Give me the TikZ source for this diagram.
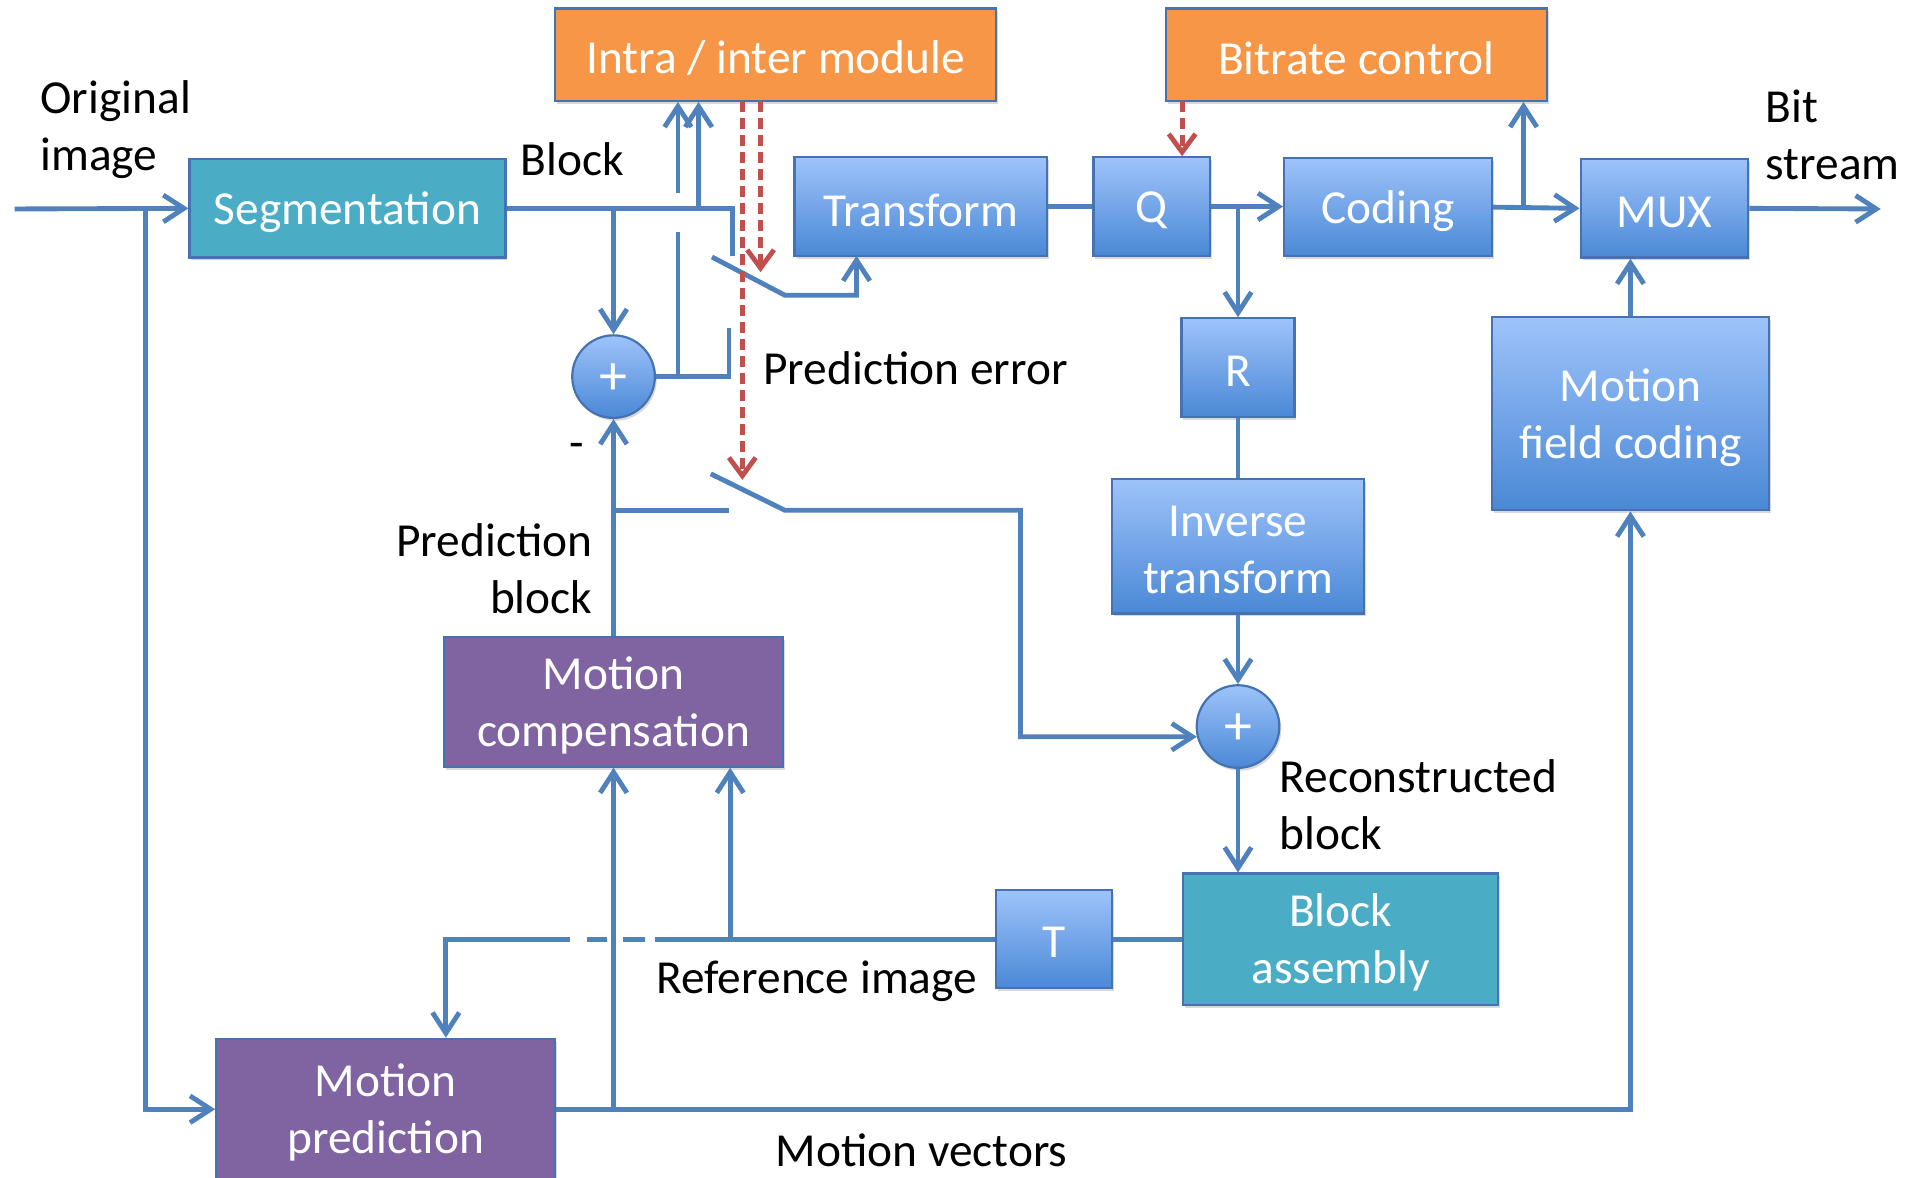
\documentclass[tikz,border=0pt]{standalone}
\usepackage{fontspec}
\setmainfont{Carlito}
\usetikzlibrary{arrows.meta,shadows}
\definecolor{lnblue}{HTML}{4F81BD}
\definecolor{bdblue}{HTML}{4572B0}
\definecolor{boxteal}{HTML}{4BACC6}
\definecolor{boxorange}{HTML}{F79646}
\definecolor{boxpurple}{HTML}{8064A2}
\definecolor{gtop}{HTML}{9EC3FA}
\definecolor{gbot}{HTML}{4A88D6}
\definecolor{redarr}{HTML}{C0504D}
\begin{document}
\begin{tikzpicture}[x=0.5pt,y=-0.5pt,
  font=\fontsize{19.5pt}{23.5pt}\selectfont,
  shd/.style={drop shadow={shadow xshift=0.8pt, shadow yshift=-1.2pt, opacity=0.3}},
  box/.style={draw=bdblue, line width=0.9pt, inner sep=0pt, shd},
  txt/.style={label={[text=white, align=center, inner sep=0pt, yshift=-1.5pt]center:#1}},
  gbox/.style={box, top color=gtop, bottom color=gbot},
  tbox/.style={box, fill=boxteal},
  obox/.style={box, fill=boxorange},
  pbox/.style={box, fill=boxpurple},
  sz/.style 2 args={minimum width=#1*0.5pt, minimum height=#2*0.5pt},
  sumnode/.style={circle, draw=bdblue, line width=0.9pt, top color=gtop, bottom color=gbot,
     minimum size=68*0.5pt, inner sep=0pt, shd},
  sumtxt/.style={label={[text=white, inner sep=0pt, yshift=-1pt, font=\fontsize{23pt}{26pt}\selectfont]center:+}},
  ln/.style={draw=lnblue, line width=2pt},
  arr/.style={ln, -{Straight Barb[length=8.5pt,width=11pt]}},
  rarr/.style={draw=redarr, line width=2pt, dash pattern=on 4.5pt off 2.5pt, -{Straight Barb[length=7.5pt,width=11pt]}},
  lbl/.style={inner sep=0pt, text=black},
]
\useasboundingbox (0,0) rectangle (1568,969);

% ---------- boxes ----------
\node[obox, sz={363}{76}, txt={Intra / inter module}] (intra) at (638.5,45) {};
\node[obox, sz={313}{76}, txt={Bitrate control}] (bitrate) at (1116.5,45) {};
\node[tbox, sz={260}{81}, txt={Segmentation}] (seg) at (286,171.5) {};
\node[gbox, sz={208}{81}, txt={Transform}] (transform) at (758,170) {};
\node[gbox, sz={96}{81}, txt={Q}] (Q) at (948,170) {};
\node[gbox, sz={171}{81}, txt={Coding}] (coding) at (1142.5,170.5) {};
\node[gbox, sz={138}{81}, txt={MUX}] (mux) at (1370,171.5) {};
\node[gbox, sz={93}{81}, txt={R}] (R) at (1019,302.5) {};
\node[gbox, sz={228}{159}, txt={Motion\\field coding}] (mfc) at (1342,340.5) {};
\node[gbox, sz={208}{111}, txt={Inverse\\transform}] (inv) at (1019,449.5) {};
\node[sumnode, sumtxt] (c1) at (505,310) {};
\node[sumnode, sumtxt] (c2) at (1019,598) {};
\node[pbox, sz={279}{107}, txt={Motion\\compensation}] (mc) at (505,577.5) {};
\node[gbox, sz={95}{81}, txt={T}] (T) at (867.5,773) {};
\node[tbox, sz={259}{108}, txt={Block\\assembly}] (ba) at (1103.5,773) {};
\node[pbox, sz={279}{116}, txt={Motion\\prediction}] (mp) at (317.5,913) {};

% ---------- labels ----------
\node[lbl, align=left, anchor=west] (orig) at (33,107) {Original\\image};
\node[lbl, anchor=west] (blk) at (428,131) {Block};
\node[lbl, align=left, anchor=west] (bits) at (1453,111) {Bit\\stream};
\node[lbl, anchor=west] (pe) at (628,303) {Prediction error};
\node[lbl] (minus) at (475,371) {-};
\node[lbl, align=right, anchor=east] (pb) at (488,468) {Prediction\\block};
\node[lbl, align=left, anchor=west] (rb) at (1053,662) {Reconstructed\\block};
\node[lbl, anchor=west] (ri) at (540,808) {Reference image};
\node[lbl, anchor=west] (mv) at (638,947) {Motion vectors};

% ---------- coordinates ----------
\coordinate (in) at (12,172);
\coordinate (j1) at (120,172);
\coordinate (sw1a) at (603,211);
\coordinate (j2) at (575,171.5);
\coordinate (j3) at (505,171.5);
\coordinate (sw1b) at (600,270);
\coordinate (j4) at (558,310);
\coordinate (g1) at (558,191);
\coordinate (g2) at (558,159);
\coordinate (bl1a) at (586,211.5);
\coordinate (bl1b) at (646,243);
\coordinate (tin) at (705,210.5);
\coordinate (rd1) at (626,83);
\coordinate (rd1e) at (626,224);
\coordinate (rd2) at (611,83);
\coordinate (rd2e) at (611,395);
\coordinate (rd3) at (973,83);
\coordinate (j5) at (505,420);
\coordinate (sw2a) at (600,420);
\coordinate (bl2a) at (585,390);
\coordinate (bl2b) at (646,420);
\coordinate (bl2c) at (840,420);
\coordinate (j6) at (1019,170);
\coordinate (j7) at (1254,171);
\coordinate (out) at (1548,172);
\coordinate (d1) at (539,773);
\coordinate (d2a) at (531,773);
\coordinate (d2b) at (513,773);
\coordinate (d3a) at (500,773);
\coordinate (d3b) at (483,773);
\coordinate (d0) at (469,773);
\coordinate (k) at (367,773);
\coordinate (j8) at (601,773);
\coordinate (j9) at (505,913);

% ---------- connectors ----------
\draw[arr] (in) -- (seg.west);
\draw[arr] (j1) |- (mp.west);
\draw[ln] (seg.east) -| (sw1a);
\draw[arr] (j2) -- (j2 |- intra.south);
\draw[arr] (j3) -- (c1.north);
\draw[ln] (c1.east) -| (sw1b);
\draw[ln] (j4) -- (g1);
\draw[arr] (g2) -- (g2 |- intra.south);
\draw[arr] (bl1a) -- (bl1b) -| (tin);
\draw[rarr] (rd1) -- (rd1e);
\draw[rarr] (rd2) -- (rd2e);
\draw[rarr] (rd3) -- (rd3 |- Q.north);
\draw[arr] (mc.north) -- (c1.south);
\draw[ln] (j5) -- (sw2a);
\draw[arr] (bl2a) -- (bl2b) -- (bl2c) |- (c2.194);
\draw[ln] (transform.east) -- (Q.west);
\draw[arr] (Q.east) -- (Q.east -| coding.west);
\draw[arr] (j6) -- (R.north);
\draw[ln] (R.south) -- (inv.north);
\draw[arr] (inv.south) -- (c2.north);
\draw[arr] (c2.south) -- (c2.south |- ba.north);
\draw[arr] (coding.east) -- (mux.west);
\draw[arr] (j7) -- (j7 |- bitrate.south);
\draw[arr] (mux.east) -- (out);
\draw[arr] (mfc.north) -- (mfc.north |- mux.south);
\draw[ln] (ba.west) -- (T.east);
\draw[ln] (T.west) -- (d1);
\draw[ln] (d2a) -- (d2b);
\draw[ln] (d3a) -- (d3b);
\draw[arr] (d0) -- (k) -- (k |- mp.north);
\draw[arr] (j8) -- (j8 |- mc.south);
\draw[arr] (mp.east) -| (mfc.south);
\draw[arr] (j9) -- (mc.south);
\end{tikzpicture}
\end{document}
